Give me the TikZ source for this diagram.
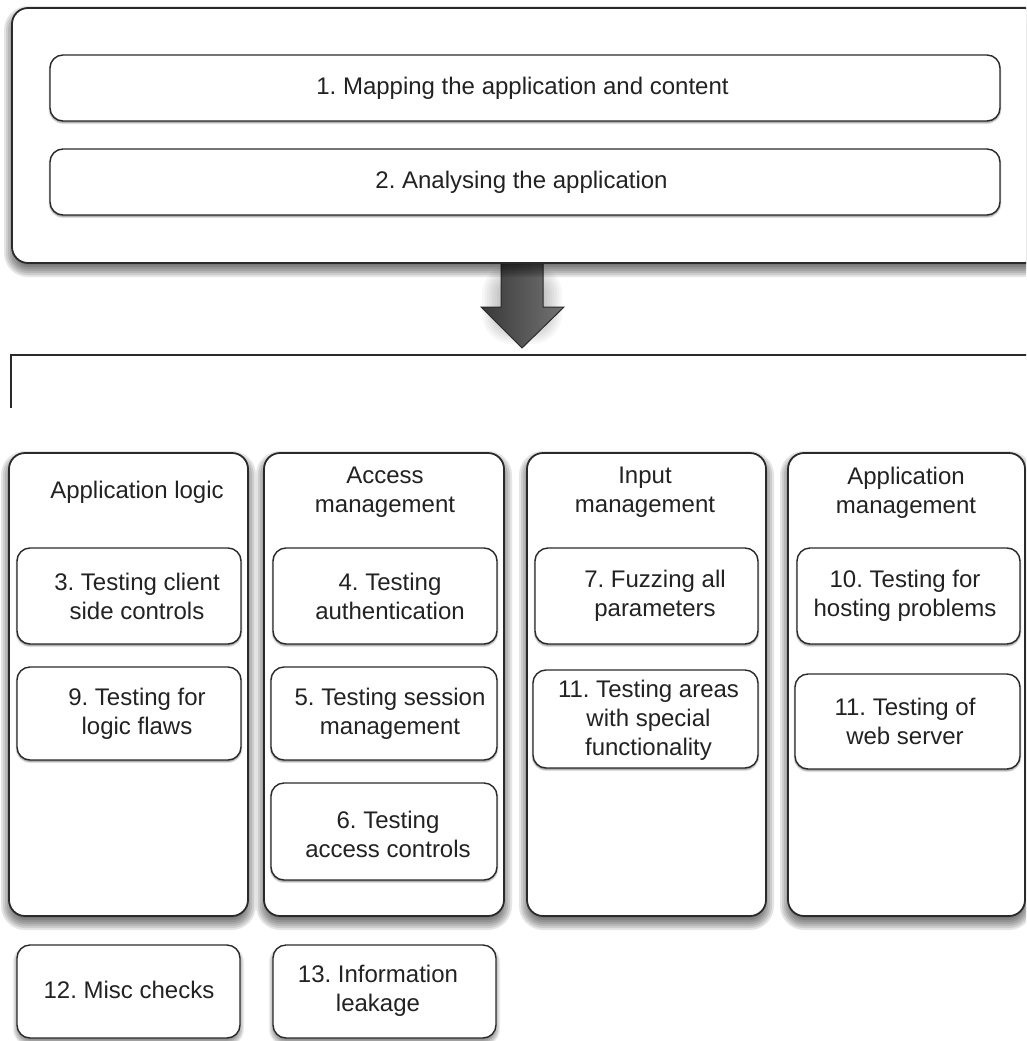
\documentclass[tikz,border=0pt]{standalone}
\usepackage{fontspec}
\setmainfont{Liberation Sans}
\usetikzlibrary{calc}
\frenchspacing
\definecolor{linec}{HTML}{2A2A2A}
\definecolor{textc}{HTML}{222222}
\definecolor{arrdark}{HTML}{383838}
\definecolor{arrmid}{HTML}{A8A8A8}
\definecolor{arrright}{HTML}{747474}
\tikzset{
  outerbox/.style={draw=linec, line width=1.8pt, fill=white, rounded corners=16pt, outer sep=0pt},
  colbox/.style={draw=linec, line width=1.8pt, fill=white, rounded corners=16pt, outer sep=0pt,
    minimum width=239pt, minimum height=463pt},
  ibox/.style={draw=linec, line width=1.4pt, fill=white, rounded corners=13pt, outer sep=0pt},
  txt/.style={font=\fontsize{24}{29}\selectfont, align=center, text=textc, inner sep=0pt},
  bracket/.style={draw=linec, line width=1.5pt},
  bigarrow/.style={draw=linec, line width=1pt, left color=arrdark, middle color=arrmid, right color=arrright}
}
% soft shadow: cx cy w h radius dy blur opacity-per-layer
\newcommand\softshadow[8]{%
  \foreach \k [evaluate=\k as \g using -#7/2+\k*#7/8,
               evaluate=\k as \rr using #5-#7/2+\k*#7/8] in {1,...,8}{%
    \fill[black, opacity=#8, rounded corners=\rr pt]
      (#1-#3/2-\g, #2-#4/2-\g+#6) rectangle (#1+#3/2+\g, #2+#4/2+\g+#6);
  }}
\newcommand\ibxs[9]{% name cx cy w h tx ty text shadowstrength
  \softshadow{#2}{#3}{#4}{#5}{13}{#9}{2*#9}{0.07}%
  \node[ibox, minimum width=#4pt, minimum height=#5pt] (#1) at (#2,#3) {};
  \node[txt] (#1t) at (#6,#7) {#8};}
\begin{document}
\begin{tikzpicture}[x=1pt,y=-1pt]
\useasboundingbox (0,0) rectangle (1026,1041);
\fill[white] (0,0) rectangle (1026,1041);
\clip (0,0) rectangle (1026,1041);

% arrow between the phases
\coordinate (aTopL) at (501,255);
\coordinate (aTopR) at (543,255);
\coordinate (aTip) at (522,348);
\softshadow{522}{300}{60}{60}{20}{4}{20}{0.03}
\path[bigarrow] (aTopL) -- (aTopR) -- (543,307) -- (564,307) -- (aTip) -- (481,307) -- (501,307) -- cycle;

% top container
\softshadow{526}{135.5}{1028}{255}{16}{6}{16}{0.1}
\node[outerbox, minimum width=1028pt, minimum height=255pt] (top) at (526,135.5) {};
\ibxs{m1}{525}{88}{950}{66}{522.5}{88}{1. Mapping the application and content}{1.5}
\ibxs{m2}{525}{182}{950}{66}{521.5}{182}{2. Analysing the application}{1.5}

% bracket
\coordinate (bl) at (11,408);
\coordinate (bt) at (11,355);
\coordinate (br) at (1040,355);
\draw[bracket] (bl) -- (bt) -- (br);

% columns
\softshadow{128.5}{684.5}{239}{463}{16}{6}{16}{0.1}
\softshadow{384}{684.5}{240}{463}{16}{6}{16}{0.1}
\softshadow{646.5}{684.5}{239}{463}{16}{6}{16}{0.1}
\softshadow{906.5}{684.5}{237}{463}{16}{6}{16}{0.1}
\node[colbox] (c1) at (128.5,684.5) {};
\node[colbox, minimum width=240pt] (c2) at (384,684.5) {};
\node[colbox] (c3) at (646.5,684.5) {};
\node[colbox, minimum width=237pt] (c4) at (906.5,684.5) {};

\node[txt] (h1) at (137,492) {Application logic};
\node[txt] (h2) at (385,492.5) {Access\\management};
\node[txt] (h3) at (645,492.5) {Input\\management};
\node[txt] (h4) at (906,492.5) {Application\\management};

% inner boxes
\ibxs{b3}{129}{596}{224}{96}{137}{596}{3. Testing client\\side controls}{1.5}
\ibxs{b9}{129}{713.5}{224}{93}{137}{713.5}{9. Testing for\\logic flaws}{1.5}
\ibxs{b4}{385}{596}{224}{96}{390}{596}{4. Testing\\authentication}{1.5}
\ibxs{b5}{384}{713.5}{226}{93}{390}{713.5}{5. Testing session\\management}{1.5}
\ibxs{b6}{384}{831.5}{226}{97}{388}{834}{6. Testing\\access controls}{1.5}
\ibxs{b7}{646.5}{596}{223}{96}{655}{596}{7. Fuzzing all\\parameters}{1.5}
\ibxs{b11a}{645.5}{719}{225}{98}{648.5}{720}{11. Testing areas\\with special\\functionality}{1.5}
\ibxs{b10}{908.5}{596}{223}{96}{905}{596}{10. Testing for\\hosting problems}{1.5}
\ibxs{b11b}{907.5}{721.5}{225}{95}{905}{721}{11. Testing of\\web server}{1.5}

% bottom boxes
\ibxs{b12}{128.5}{991.5}{223}{93}{129}{990}{12. Misc checks}{4}
\ibxs{b13}{384.5}{991.5}{223}{93}{378}{991}{13. Information\\leakage}{4}
\end{tikzpicture}
\end{document}
